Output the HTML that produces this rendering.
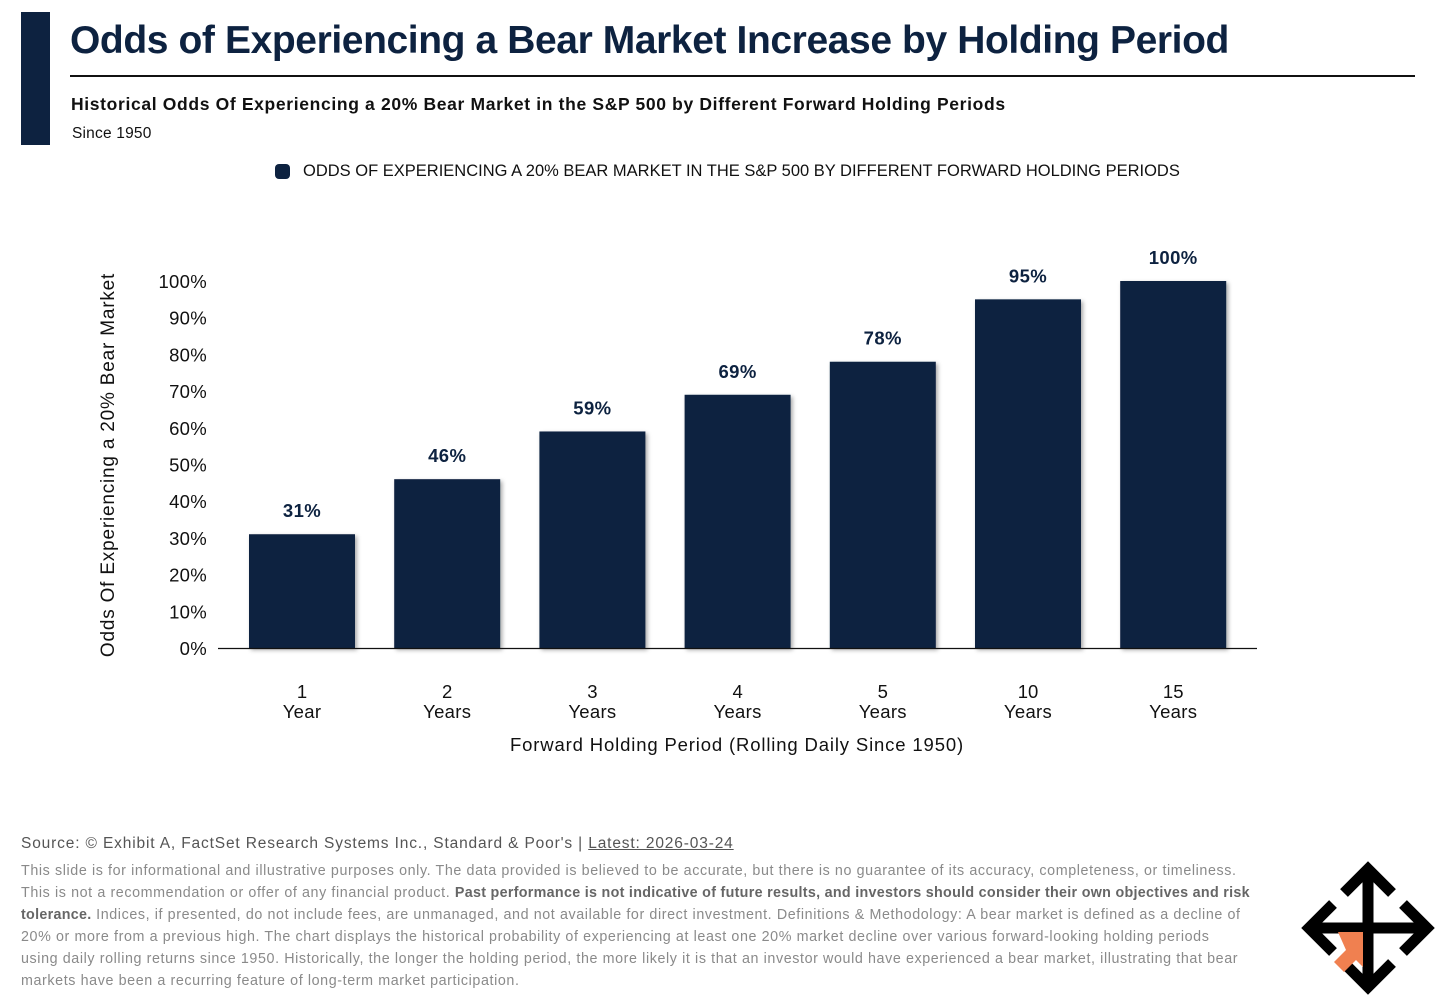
<!DOCTYPE html>
<html><head><meta charset="utf-8"><style>
body{margin:0;width:1456px;height:1007px;background:#fff;font-family:"Liberation Sans",sans-serif;position:relative;overflow:hidden;color:#0b1f3a}
.a{position:absolute;white-space:nowrap}
</style></head><body>
<div class="a" style="left:21px;top:12px;width:29px;height:133px;background:#0d2240"></div>
<div class="a" style="left:70px;top:19px;font-size:39px;font-weight:bold;letter-spacing:-0.4px;color:#0d2240">Odds of Experiencing a Bear Market Increase by Holding Period</div>
<div class="a" style="left:70px;top:75px;width:1345px;height:1.5px;background:#111"></div>
<div class="a" style="left:71px;top:94px;font-size:17.5px;font-weight:bold;letter-spacing:0.65px;color:#111">Historical Odds Of Experiencing a 20% Bear Market in the S&amp;P 500 by Different Forward Holding Periods</div>
<div class="a" style="left:72px;top:125px;font-size:15.5px;letter-spacing:0.2px;color:#111">Since 1950</div>
<div class="a" style="left:275px;top:164px;width:15px;height:15px;border-radius:4px;background:#0d2240"></div>
<div class="a" style="left:303px;top:162px;font-size:16.5px;color:#111">ODDS OF EXPERIENCING A 20% BEAR MARKET IN THE S&amp;P 500 BY DIFFERENT FORWARD HOLDING PERIODS</div>

<svg class="a" style="left:0;top:0" width="1456" height="800">
<defs><filter id="sh" x="-10%" y="-10%" width="130%" height="130%"><feDropShadow dx="2" dy="2" stdDeviation="2" flood-color="#000" flood-opacity="0.35"/></filter></defs>
<g id="g"></g>
</svg>

<div class="a" style="left:21px;top:835px;font-size:15.5px;letter-spacing:0.85px;color:#555">Source: © Exhibit A, FactSet Research Systems Inc., Standard &amp; Poor's | <span style="text-decoration:underline">Latest: 2026-03-24</span></div>
<div class="a" style="left:21px;top:860px;font-size:14.3px;line-height:22px;letter-spacing:0.6px;color:#8a8a8a">This slide is for informational and illustrative purposes only. The data provided is believed to be accurate, but there is no guarantee of its accuracy, completeness, or timeliness.<br>This is not a recommendation or offer of any financial product. <b style="color:#666;letter-spacing:0.3px">Past performance is not indicative of future results, and investors should consider their own objectives and risk</b><br><b style="color:#666;letter-spacing:0.3px">tolerance.</b> Indices, if presented, do not include fees, are unmanaged, and not available for direct investment. Definitions &amp; Methodology: A bear market is defined as a decline of<br>20% or more from a previous high. The chart displays the historical probability of experiencing at least one 20% market decline over various forward-looking holding periods<br>using daily rolling returns since 1950. Historically, the longer the holding period, the more likely it is that an investor would have experienced a bear market, illustrating that bear<br>markets have been a recurring feature of long-term market participation.</div>

<svg class="a" style="left:1300px;top:860px" width="136" height="136" viewBox="0 0 136 136">
<g stroke="#000" stroke-width="11" fill="none" stroke-linecap="butt" stroke-linejoin="miter">
<line x1="68" y1="10" x2="68" y2="126"/><line x1="10" y1="68" x2="126" y2="68"/>
<polyline points="44,33 68,9 92,33"/><polyline points="44,103 68,127 92,103"/>
<polyline points="33,44 9,68 33,92"/><polyline points="103,44 127,68 103,92"/>
</g>
<polygon points="38,72 63,72 63,107 56,100 44,112 34,102 46,90" fill="#f08050"/>
</svg>

<script>
const categories=["1 Year","2 Years","3 Years","4 Years","5 Years","10 Years","15 Years"];
const values=[31,46,59,69,78,95,100];
const yTicks=[0,10,20,30,40,50,60,70,80,90,100];
const ns="http://www.w3.org/2000/svg",g=document.getElementById('g');
const y=v=>648-v*3.67, x=i=>302+i*145.2;
function mk(t,a,txt){const e=document.createElementNS(ns,t);for(const k in a)e.setAttribute(k,a[k]);if(txt!=null)e.textContent=txt;g.appendChild(e);return e;}
yTicks.forEach(v=>{const e=mk('text',{x:207,y:y(v)+7,'text-anchor':'end','font-size':18.5,'letter-spacing':0.3,fill:'#111'},v+'%');

});
values.forEach((v,i)=>{const r=mk('rect',{x:x(i)-53,y:y(v),width:106,height:y(0)-y(v),fill:'#0d2240',filter:'url(#sh)'});


const l=mk('text',{x:x(i),y:y(v)-17,'text-anchor':'middle','font-size':18.5,'font-weight':'bold','letter-spacing':0.4,fill:'#0d2240'},v+'%');


const p=categories[i].split(' ');
const c1=mk('text',{x:x(i),y:698,'text-anchor':'middle','font-size':18.5,fill:'#111'},p[0]);


const c2=mk('text',{x:x(i),y:718,'text-anchor':'middle','font-size':18.5,'letter-spacing':0.3,fill:'#111'},p[1]);

});
const ax=mk('line',{x1:218,x2:1257,y1:648.5,y2:648.5,stroke:'#111','stroke-width':1.3});


const xt=mk('text',{x:737,y:751,'text-anchor':'middle','font-size':18.5,'letter-spacing':0.85,fill:'#111'},'Forward Holding Period (Rolling Daily Since 1950)');


const yt=mk('text',{x:0,y:0,'text-anchor':'middle','font-size':19,'letter-spacing':0.8,fill:'#111',transform:'translate(114,465) rotate(-90)'},'Odds Of Experiencing a 20% Bear Market');


</script>
</body></html>
